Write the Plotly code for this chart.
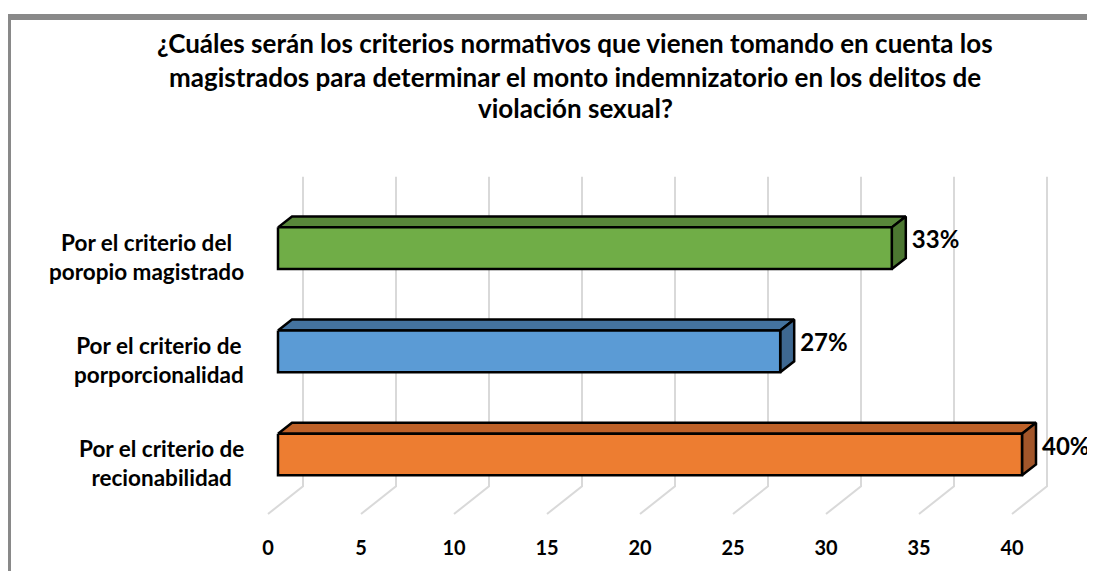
import plotly.graph_objects as go

# data, bottom category first (as the chart reads from the axis up)
categories = [
    "Por el criterio de<br>recionabilidad",
    "Por el criterio de<br>porporcionalidad",
    "Por el criterio del<br>poropio magistrado",
]
values = [40, 27, 33]
tick_values = [0, 5, 10, 15, 20, 25, 30, 35, 40]
title_lines = [
    "¿Cuáles serán los criterios normativos que vienen tomando en cuenta los",
    "magistrados para determinar el monto indemnizatorio en los delitos de",
    "violación sexual?",
]

front_colors = ["#ed7d31", "#5b9bd5", "#70ad47"]
top_colors = ["#be6128", "#44739f", "#58873a"]
side_colors = ["#a2562a", "#3e6891", "#4c7731"]

FONT = "Lato"
PAGE = 8                   # default body margin of the html page
W, H = 1095 - PAGE, 571 - PAGE
ML, MT = 256 - PAGE, 150 - PAGE
PLOT_W, PLOT_H = 804, 370
MR, MB = W - ML - PLOT_W, H - MT - PLOT_H
PX = 18.6                  # pixels per x unit
X_MIN = -12 / PX
X_MAX = X_MIN + PLOT_W / PX

FRONT_X0 = 10 / PX         # bar front face starts here
BAR_DX, BAR_DY = 14 / PX, 11
FLOOR_DX, FLOOR_DY = 35 / PX, 28
FLOOR_Y = 3
WALL_TOP = 343
Y0, STEP, BAR_H = 63, 104, 42


def py_paper(py):
    # screen pixel row -> paper y
    return (MT + PLOT_H - (py - PAGE)) / PLOT_H


def px_paper(px):
    return (px - PAGE - ML) / PLOT_W


fig = go.Figure()

# back wall + floor grid
for t in tick_values:
    fig.add_trace(go.Scatter(
        x=[t, t + FLOOR_DX, t + FLOOR_DX], y=[FLOOR_Y, FLOOR_Y + FLOOR_DY, WALL_TOP],
        mode="lines", line=dict(color="#d9d9d9", width=2),
        hoverinfo="skip", showlegend=False))

centers = [Y0 + i * STEP for i in range(len(categories))]

for i, (v, yc) in enumerate(zip(values, centers)):
    x0 = FRONT_X0
    x1 = FRONT_X0 + v
    yt, yb = yc + BAR_H / 2, yc - BAR_H / 2
    # top face
    fig.add_trace(go.Scatter(
        x=[x0, x0 + BAR_DX, x1 + BAR_DX, x1, x0],
        y=[yt, yt + BAR_DY, yt + BAR_DY, yt, yt],
        fill="toself", fillcolor=top_colors[i], mode="lines",
        line=dict(color="black", width=2.5), hoverinfo="skip", showlegend=False))
    # side face
    fig.add_trace(go.Scatter(
        x=[x1, x1 + BAR_DX, x1 + BAR_DX, x1, x1],
        y=[yt, yt + BAR_DY, yb + BAR_DY, yb, yt],
        fill="toself", fillcolor=side_colors[i], mode="lines",
        line=dict(color="black", width=2.5), hoverinfo="skip", showlegend=False))
    # front face
    fig.add_trace(go.Scatter(
        x=[x0, x1, x1, x0, x0], y=[yt, yt, yb, yb, yt],
        fill="toself", fillcolor=front_colors[i], mode="lines",
        line=dict(color="black", width=2.5), hoverinfo="skip", showlegend=False))

# value labels
fig.add_trace(go.Scatter(
    x=[FRONT_X0 + v + BAR_DX + 6 / PX for v in values], y=[c + 6 for c in centers],
    text=[f"{v}%" for v in values], mode="text", textposition="middle right",
    textfont=dict(family=FONT, size=24, color="black", weight="bold"),
    cliponaxis=False, hoverinfo="skip", showlegend=False))

annotations = []
for cat, yc in zip(categories, centers):
    annotations.append(dict(
        text=cat, xref="paper", yref="y", x=-10 / PLOT_W, y=yc - 9,
        xanchor="right", yanchor="middle", align="center", showarrow=False,
        font=dict(family=FONT, size=22.5, color="black", weight="bold")))

for line, py in zip(title_lines, [42, 76, 108]):
    annotations.append(dict(
        text=line, xref="paper", yref="paper", x=px_paper(575),
        y=py_paper(py), xanchor="center", yanchor="middle",
        showarrow=False, font=dict(family=FONT, size=26, color="black", weight="bold")))

# chart frame (cropped on the right and bottom in the source)
fig.add_shape(type="rect", xref="paper", yref="paper",
              x0=px_paper(8), x1=px_paper(1120),
              y0=py_paper(600), y1=py_paper(16),
              line=dict(color="#898989", width=6), layer="below")

fig.update_layout(
    width=W, height=H,
    margin=dict(l=ML, r=MR, t=MT, b=MB),
    paper_bgcolor="white", plot_bgcolor="white",
    annotations=annotations,
    xaxis=dict(range=[X_MIN, X_MAX], tickvals=tick_values, showgrid=False,
               zeroline=False, showline=False, ticks="", ticklabelstandoff=17,
               tickfont=dict(family=FONT, size=20, color="black", weight="bold"),
               fixedrange=True),
    yaxis=dict(range=[0, PLOT_H], visible=False, fixedrange=True),
    showlegend=False,
)

fig.write_html("out.html")
